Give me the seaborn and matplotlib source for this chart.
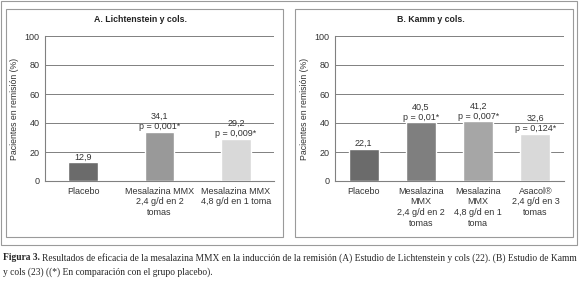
import matplotlib
matplotlib.use("Agg")
import matplotlib.pyplot as plt
import seaborn as sns
import pandas as pd
from matplotlib.patches import Rectangle

# datos
cats_a = ["Placebo", "Mesalazina MMX\n2,4 g/d en 2\ntomas", "Mesalazina MMX\n4,8 g/d en 1 toma"]
vals_a = [12.9, 34.1, 29.2]
labels_a = ["12,9", "34,1\np = 0,001*", "29,2\np = 0,009*"]
colors_a = ["#6b6b6b", "#999999", "#d9d9d9"]

cats_b = ["Placebo", "Mesalazina\nMMX\n2,4 g/d en 2\ntomas", "Mesalazina\nMMX\n4,8 g/d en 1\ntoma",
          "Asacol®\n2,4 g/d en 3\ntomas"]
vals_b = [22.1, 40.5, 41.2, 32.6]
labels_b = ["22,1", "40,5\np = 0,01*", "41,2\np = 0,007*", "32,6\np = 0,124*"]
colors_b = ["#6b6b6b", "#7f7f7f", "#a6a6a6", "#d9d9d9"]

sns.set_style("white")
plt.rcParams["font.family"] = ["Liberation Sans", "DejaVu Sans"]

W, H = 580, 287
fig = plt.figure(figsize=(W / 100, H / 100), dpi=100)


def fx(px):
    return px / W


def fy(py):
    return 1 - py / H


# marcos
fig.patches.append(Rectangle((fx(1), fy(245)), fx(576), (244) / H, transform=fig.transFigure,
                             fill=False, edgecolor="#9a9a9a", linewidth=0.8))
for x0, x1 in [(6, 283), (295, 573)]:
    fig.patches.append(Rectangle((fx(x0), fy(237)), fx(x1 - x0), (237 - 9) / H, transform=fig.transFigure,
                                 fill=False, edgecolor="#9a9a9a", linewidth=0.8))


def panel(left_px, cats, vals, labels, colors, title, width, title_x):
    ax = fig.add_axes([fx(left_px), fy(181), fx(229), 145 / H])
    df = pd.DataFrame({"cat": cats, "val": vals})
    sns.barplot(data=df, x="cat", y="val", hue="cat", palette=colors, legend=False,
                width=width, saturation=1, ax=ax, zorder=3)
    ax.set_ylim(0, 100)
    ax.set_xlim(-0.5, len(cats) - 0.5)
    ax.set_yticks(range(0, 101, 20))
    ax.yaxis.grid(True, color="#808080", linewidth=0.7, zorder=0)
    ax.set_axisbelow(True)
    for s in ["top", "right"]:
        ax.spines[s].set_visible(False)
    for s in ["left", "bottom"]:
        ax.spines[s].set_color("#808080")
        ax.spines[s].set_linewidth(0.8)
    ax.tick_params(axis="y", length=3, width=0.8, color="#808080", labelsize=6.5, pad=1, labelcolor="#333333")
    ax.tick_params(axis="x", length=0, labelsize=6.5, pad=4, labelcolor="#333333")
    for lab in ax.get_xticklabels():
        lab.set_linespacing(1.25)
    ax.set_xlabel("")
    ax.set_ylabel("Pacientes en remisión (%)", fontsize=6.3, color="#333333", labelpad=4)
    for i, (v, t) in enumerate(zip(vals, labels)):
        ax.annotate(t, (i, v), xytext=(0, 0.5), textcoords="offset points", ha="center",
                    va="bottom", fontsize=6.5, color="#333333", linespacing=1.15, zorder=4)
    fig.text(fx(title_x), fy(19), title, ha="center", va="center", fontsize=6.3,
             fontweight="bold", color="#222222")
    return ax


panel(45, cats_a, vals_a, labels_a, colors_a, "A. Lichtenstein y cols.", 0.39, 141)
panel(335, cats_b, vals_b, labels_b, colors_b, "B. Kamm y cols.", 0.52, 431)

# pie de figura
fig.canvas.draw()
r = fig.canvas.get_renderer()
serif = ["Liberation Serif", "DejaVu Serif"]
t1 = fig.text(fx(3), fy(258), "Figura 3.", family=serif, fontweight="bold", fontsize=6.85, va="center")
bb = t1.get_window_extent(renderer=r)
fig.text(bb.x1 / W + fx(2), fy(258),
         "Resultados de eficacia de la mesalazina MMX en la inducción de la remisión (A) Estudio de "
         "Lichtenstein y cols (22). (B) Estudio de Kamm",
         family=serif, fontsize=6.85, va="center")
fig.text(fx(3), fy(272), "y cols (23) ((*) En comparación con el grupo placebo).",
         family=serif, fontsize=6.85, va="center")

fig.savefig("out.png", dpi=100)
